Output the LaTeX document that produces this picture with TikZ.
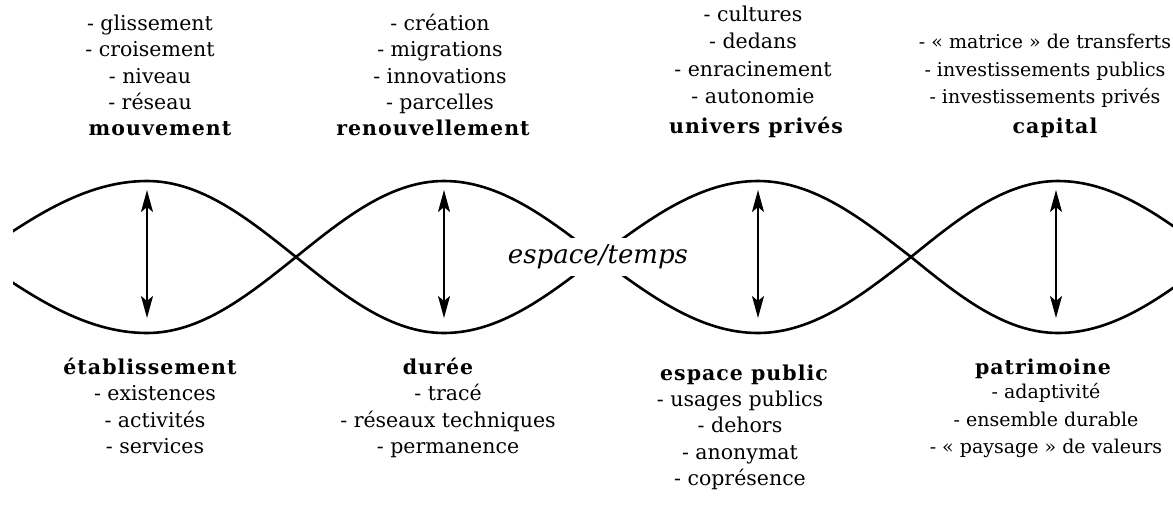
\documentclass[tikz,border=0pt]{standalone}
\usepackage{fontspec}
\setmainfont{DejaVu Serif}
\newfontfamily\headfont{DejaVu Serif}[LetterSpace=5]
\usetikzlibrary{positioning,arrows.meta}

\begin{document}
\begin{tikzpicture}[x=1pt, y=-1pt,
  txt/.style={font=\fontsize{20.5}{26.5}\selectfont, align=center, inner sep=0pt,
              anchor=south, text depth=0pt},
  txtw/.style={txt, font=\fontsize{20.5}{27.5}\selectfont},
  txts/.style={txt, font=\fontsize{19}{27.5}\selectfont},
  head/.style={font=\headfont\bfseries\fontsize{20.5}{26}\selectfont, inner sep=0pt, anchor=base},
  mid/.style={font=\itshape\fontsize{26}{30}\selectfont, fill=white, inner xsep=2pt, inner ysep=7pt},
  wave/.style={line width=2.6pt},
  arr/.style={{Stealth[length=22pt, width=12pt, inset=5pt]}-{Stealth[length=22pt, width=12pt, inset=5pt]}, line width=2pt},
]
\useasboundingbox (0,0) rectangle (1173,504);

% ====== the two waves ======
\begin{scope}
\clip (13,0) rectangle (1173,504);
\draw[wave] (-25,257) sin (147,181) cos (296,257) sin (444,333) cos (598,257)
  sin (758,181) cos (911,257) sin (1058,333) cos (1215,257);
\draw[wave] (-25,257) sin (147,333) cos (296,257) sin (444,181) cos (598,257)
  sin (758,333) cos (911,257) sin (1058,181) cos (1215,257);
\end{scope}

% vertical arrows
\coordinate (u1) at (147,190); \coordinate (d1) at (147,318);
\coordinate (u2) at (444,190); \coordinate (d2) at (444,318);
\coordinate (u3) at (758,190); \coordinate (d3) at (758,318);
\coordinate (u4) at (1056,190); \coordinate (d4) at (1056,318);
\draw[arr] (u1) -- (d1);
\draw[arr] (u2) -- (d2);
\draw[arr] (u3) -- (d3);
\draw[arr] (u4) -- (d4);

\node[mid] (et) at (598,257) {espace/temps};

% ====== top row ======
\node[txt]  (l1) at (150,110) {- glissement\\- croisement\\- niveau\\- réseau};
\node[head] (h1) at (160,135) {mouvement};
\node[txt]  (l2) at (440,110) {- création\\- migrations\\- innovations\\- parcelles};
\node[head] (h2) at (433,135) {renouvellement};
\node[txtw] (l3) at (753,104) {- cultures\\- dedans\\- enracinement\\- autonomie};
\node[head] (h3) at (756,133) {univers privés};
\node[txts] (l4) at (1045,104) {- «~matrice~» de transferts\\- investissements publics\\- investissements privés};
\node[head] (h4) at (1055,133) {capital};

% ====== bottom row ======
\node[head] (h5) at (150,374) {établissement};
\node[txt]  (l5) at (155,454) {- existences\\- activités\\- services};
\node[head] (h6) at (438,374) {durée};
\node[txt]  (l6) at (448,454) {- tracé\\- réseaux techniques\\- permanence};
\node[head] (h7) at (744,380) {espace public};
\node[txt]  (l7) at (740,486) {- usages publics\\- dehors\\- anonymat\\- coprésence};
\node[head] (h8) at (1043,374) {patrimoine};
\node[txts] (l8) at (1046,454) {- adaptivité\\- ensemble durable\\- «~paysage~» de valeurs};

\end{tikzpicture}
\end{document}
